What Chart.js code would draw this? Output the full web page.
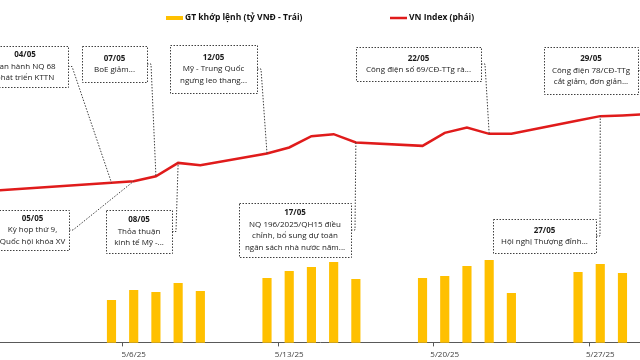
<!DOCTYPE html>
<html>
<head>
<meta charset="utf-8">
<script src="https://cdn.jsdelivr.net/npm/chart.js@4.4.1/dist/chart.umd.min.js"></script>
<style>
  html, body { margin: 0; padding: 0; background: #fff; }
  #wrap { width: 640px; height: 360px; position: relative; }
</style>
</head>
<body>
<div id="wrap"><canvas id="chart"></canvas></div>
<script>
// trading days, dd/mm (2025)
const tradeDates = ['29/04', '05/05', '06/05', '07/05', '08/05', '09/05',
    '12/05', '13/05', '14/05', '15/05', '16/05',
    '19/05', '20/05', '21/05', '22/05', '23/05',
    '26/05', '27/05', '28/05', '29/05'];
// GT khớp lệnh (tỷ VNĐ)
const matchedValue = [null, 10500, 13000, 12500, 14750, 12750,
    16000, 17750, 18750, 20000, 15750,
    16000, 16500, 19000, 20500, 12250,
    17500, 19500, 17250, 18000];
// VN Index
const vnIndex = [1210.6, 1226.8, 1229.5, 1238.5, 1262.4, 1258.3,
    1279.3, 1290.1, 1310.4, 1314.0, 1299.1,
    1293.0, 1316.4, 1326.1, 1314.6, 1314.9,
    1338.7, 1346.4, 1347.7, 1349.5];
const tickLabels = ['5/6/25', '5/13/25', '5/20/25', '5/27/25'];
const seriesNames = ['GT khớp lệnh (tỷ VNĐ - Trái)', 'VN Index (phái)'];

// news callouts
const eventDates = ['04/05', '07/05', '12/05', '22/05', '29/05', '05/05', '08/05', '17/05', '27/05'];
const eventTexts = [
    ['Ban hành NQ 68', 'phát triển KTTN'],
    ['BoE giảm...'],
    ['Mỹ - Trung Quốc', 'ngưng leo thang...'],
    ['Công điện số 69/CĐ-TTg rà...'],
    ['Công điện 78/CĐ-TTg', 'cắt giảm, đơn giản...'],
    ['Kỳ họp thứ 9,', 'Quốc hội khóa XV'],
    ['Thỏa thuận', 'kinh tế Mỹ -...'],
    ['NQ 196/2025/QH15 điều', 'chỉnh, bổ sung dự toán', 'ngân sách nhà nước năm...'],
    ['Hội nghị Thượng đỉnh...']
];
const eventTargets = ['05/05', '07/05', '12/05', '22/05', '29/05', '06/05', '08/05', '16/05', '27/05'];

// box placement (pixels)
const calloutBoxes = [
    {x: -18, y: 46, w: 86, h: 41},
    {x: 82, y: 46, w: 65, h: 36},
    {x: 170, y: 45, w: 87, h: 48},
    {x: 356, y: 47, w: 125, h: 34},
    {x: 544, y: 47, w: 94, h: 47},
    {x: -4, y: 210, w: 73, h: 40},
    {x: 106, y: 210, w: 66, h: 43},
    {x: 239, y: 203, w: 112, h: 54},
    {x: 493, y: 219, w: 103, h: 34}
];

const FONT = '"Open Sans", "Noto Sans", sans-serif';

function dayOf(ddmm) {
    const [d, m] = ddmm.split('/').map(Number);
    return (Date.UTC(2025, m - 1, d) - Date.UTC(2025, 3, 30)) / 86400000;
}
function dayOfTick(lbl) {
    const [m, d] = lbl.split('/').map(Number);
    return dayOf(d + '/' + m);
}

const callouts = {
    id: 'callouts',
    afterDraw(chart) {
        const ctx = chart.ctx;
        const xs = chart.scales.x, ys = chart.scales.yR;
        ctx.save();
        ctx.strokeStyle = '#404040';
        ctx.lineWidth = 1;
        ctx.setLineDash([1.5, 1.5]);
        eventDates.forEach((ev, i) => {
            const b = calloutBoxes[i];
            const k = tradeDates.indexOf(eventTargets[i]);
            const px = xs.getPixelForValue(dayOf(tradeDates[k]));
            const py = ys.getPixelForValue(vnIndex[k]);
            const my = b.y + b.h / 2;
            ctx.beginPath();
            ctx.moveTo(b.x + b.w, my);
            ctx.lineTo(b.x + b.w + 4, my);
            ctx.lineTo(px, py);
            ctx.stroke();
            ctx.fillStyle = '#fff';
            ctx.fillRect(b.x, b.y, b.w, b.h);
            ctx.strokeRect(b.x + 0.5, b.y + 0.5, b.w, b.h);

            const lines = [ev].concat(eventTexts[i]);
            const lh = 11.5;
            let y = my - (lines.length - 1) * lh / 2;
            ctx.fillStyle = '#1a1a1a';
            ctx.textAlign = 'center';
            ctx.textBaseline = 'middle';
            lines.forEach((t, j) => {
                ctx.font = (j === 0 ? 'bold ' : '') + '8px ' + FONT;
                ctx.fillText(t, b.x + b.w / 2, y);
                y += lh;
            });
        });
        ctx.setLineDash([]);

        // legend
        ctx.font = 'bold 8.5px ' + FONT;
        ctx.textAlign = 'left';
        ctx.textBaseline = 'middle';
        ctx.fillStyle = '#FFC000';
        ctx.fillRect(166, 16, 17, 4);
        ctx.fillStyle = '#111';
        ctx.fillText(seriesNames[0], 185, 18);
        ctx.strokeStyle = '#e01b1b';
        ctx.lineWidth = 2.5;
        ctx.beginPath();
        ctx.moveTo(390, 18);
        ctx.lineTo(407, 18);
        ctx.stroke();
        ctx.fillText(seriesNames[1], 409, 18);
        ctx.restore();
    }
};

const ctx = document.getElementById('chart').getContext('2d');
new Chart(ctx, {
    type: 'bar',
    data: {
        datasets: [{
            type: 'line',
            label: seriesNames[1],
            data: tradeDates.map((d, i) => ({x: dayOf(d), y: vnIndex[i]})),
            yAxisID: 'yR',
            borderColor: '#e01b1b',
            borderWidth: 2.5,
            pointRadius: 0,
            tension: 0,
            clip: false,
            order: 1
        }, {
            type: 'bar',
            label: seriesNames[0],
            data: tradeDates.map((d, i) => ({x: dayOf(d), y: matchedValue[i]})),
            yAxisID: 'yL',
            backgroundColor: '#FFC000',
            barThickness: 8.5,
            clip: false,
            order: 2
        }]
    },
    options: {
        responsive: true,
        maintainAspectRatio: false,
        animation: false,
        layout: { padding: { left: 0, right: 0, top: 0, bottom: -4 } },
        plugins: { legend: { display: false }, tooltip: { enabled: false } },
        scales: {
            x: {
                type: 'linear',
                offset: false,
                min: -0.018,
                max: 28.789,
                afterBuildTicks: axis => {
                    axis.ticks = tickLabels.map(l => ({value: dayOfTick(l) - 0.5}));
                },
                grid: { offset: false, drawOnChartArea: false, drawTicks: true, tickLength: 4, color: '#595959' },
                border: { display: true, color: '#595959', width: 1 },
                ticks: {
                    autoSkip: false,
                    maxRotation: 0,
                    padding: 4,
                    labelOffset: 11.1,
                    color: '#404040',
                    font: { family: FONT, size: 8 },
                    callback: (v) => {
                        const i = tickLabels.findIndex(l => Math.abs(dayOfTick(l) - 0.5 - v) < 0.01);
                        return i >= 0 ? tickLabels[i] : '';
                    }
                }
            },
            yL: { display: false, min: 0, max: 85500 },
            yR: { display: false, position: 'right', min: 940, max: 1555 }
        }
    },
    plugins: [callouts]
});
</script>
</body>
</html>
